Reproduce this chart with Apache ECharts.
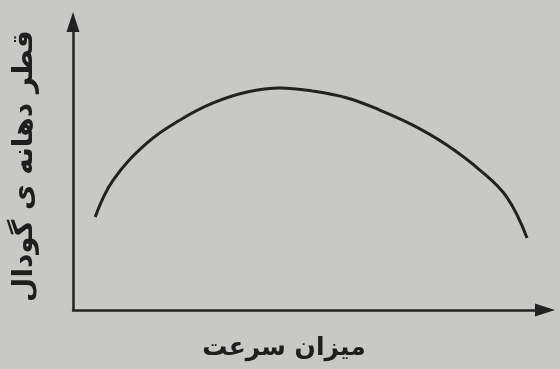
<!DOCTYPE html>
<html><head><meta charset="utf-8">
<script src="https://cdn.jsdelivr.net/npm/echarts@6/dist/echarts.min.js"></script>
<style>html,body{margin:0;padding:0;background:#c8c9c4}#c{width:560px;height:369px}</style>
</head><body><div id="c"></div>
<script>
const speed = [4.7, 8.5, 15.7, 22.7, 29.7, 36.9, 43.9, 50.8, 58.1, 65.0, 72.0, 79.2, 86.2, 91.9, 96.2];
const diameter = [32.3, 45.1, 58.0, 66.0, 71.9, 75.7, 77.1, 76.0, 73.6, 69.4, 64.2, 57.3, 48.6, 39.2, 25.0];
const xName = 'میزان سرعت';
const yName = 'قطر دهانه ی گودال';

const chart = echarts.init(document.getElementById('c'));
const axisCommon = {
  type: 'value', min: 0, max: 100,
  axisLabel: {show: false}, axisTick: {show: false}, splitLine: {show: false},
  axisLine: {show: true, symbol: ['none', 'triangle'], symbolSize: [13, 20], lineStyle: {color: '#222', width: 2.5}}
};
chart.setOption({
  backgroundColor: '#c8c9c4',
  animation: false,
  grid: {left: 73, right: 15, top: 22, bottom: 59, outerBoundsMode: 'none', containLabel: false},
  xAxis: Object.assign({}, axisCommon, {
    name: xName, nameLocation: 'middle', nameGap: 26,
    nameTextStyle: {fontFamily: 'DejaVu Sans', fontWeight: 'bold', fontSize: 25, color: '#1e1e1e', padding: [0, 50, 0, 0]}
  }),
  yAxis: Object.assign({}, axisCommon, {
    name: yName, nameLocation: 'middle', nameRotate: 90, nameGap: 34,
    nameTextStyle: {fontFamily: 'DejaVu Sans', fontWeight: 'bold', fontSize: 28, color: '#1e1e1e'}
  }),
  series: [{
    type: 'line', smooth: 0.4, showSymbol: false,
    data: speed.map((s, i) => [s, diameter[i]]),
    lineStyle: {color: '#222', width: 3}
  }]
});
</script></body></html>
